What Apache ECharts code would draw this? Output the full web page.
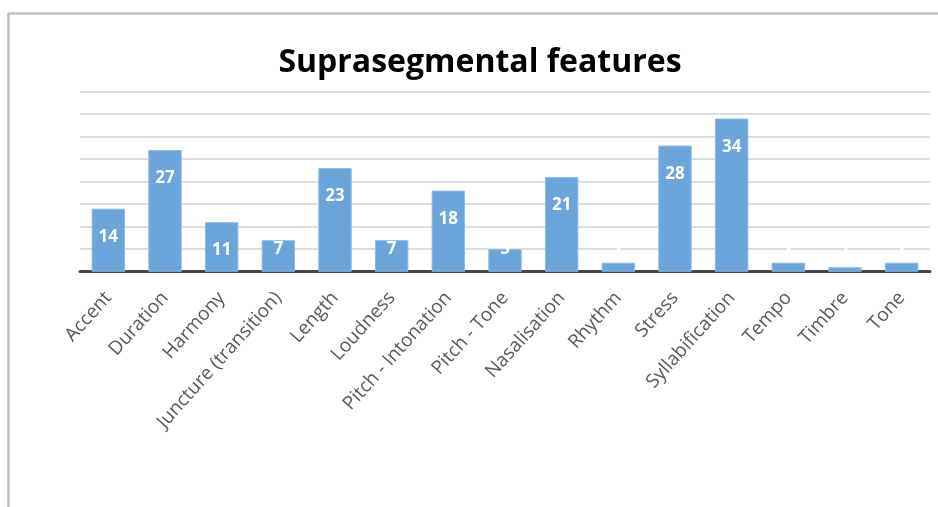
<!DOCTYPE html>
<html>
<head>
<meta charset="utf-8">
<script src="https://cdn.jsdelivr.net/npm/echarts@6/dist/echarts.min.js"></script>
<style>
html,body{margin:0;padding:0;background:#fff;}
#c{width:938px;height:507px;}
</style>
</head>
<body>
<div id="c"></div>
<script>
const titleText = "Suprasegmental features";
const categories = ["Accent","Duration","Harmony","Juncture (transition)","Length","Loudness","Pitch - Intonation","Pitch - Tone","Nasalisation","Rhythm","Stress","Syllabification","Tempo","Timbre","Tone"];
const counts = [14,27,11,7,23,7,18,5,21,2,28,34,2,1,2];
const yMin = 0, yMax = 40, yStep = 5;

const chart = echarts.init(document.getElementById('c'), null, {renderer:'canvas'});
const fontFam = '"Open Sans",sans-serif';

const data = counts.map(v => ({
  value: v,
  label: v >= 11
    ? {position:'insideTop', distance: 20}
    : {position:'insideBottom', distance: 14}
}));

chart.setOption({
  animation:false,
  backgroundColor:'#fff',
  title:{
    text:titleText, left: 475, textAlign:'center', top:42,
    textStyle:{fontFamily:fontFam, fontWeight:'bold', fontSize:32, color:'#000'}
  },
  graphic:[
    {type:'line', shape:{x1:8,y1:13.5,x2:938,y2:13.5}, style:{stroke:'#c0c0c0', lineWidth:2.5}, silent:true},
    {type:'line', shape:{x1:8.5,y1:13,x2:8.5,y2:507}, style:{stroke:'#c0c0c0', lineWidth:2.5}, silent:true}
  ],
  grid:{left:80, right:8, top:91.5, bottom:235.3, containLabel:false},
  xAxis:{
    type:'category', data:categories,
    axisLine:{lineStyle:{color:'#454545', width:3}},
    axisTick:{show:false},
    axisLabel:{rotate:48, margin:23, fontFamily:fontFam, fontSize:19, color:'#595959', interval:0}
  },
  yAxis:{
    type:'value', min:yMin, max:yMax, interval:yStep,
    axisLine:{show:false}, axisTick:{show:false}, axisLabel:{show:false},
    splitLine:{lineStyle:{color:'#dedede', width:2}}
  },
  series:[{
    type:'bar', data:data, barCategoryGap:'41%',
    itemStyle:{color:'#6ca5da', borderColor:'#8cbbe6', borderWidth:1},
    label:{show:true, color:'#fff', fontFamily:fontFam, fontWeight:'bold', fontSize:17}
  }]
});
</script>
</body>
</html>
